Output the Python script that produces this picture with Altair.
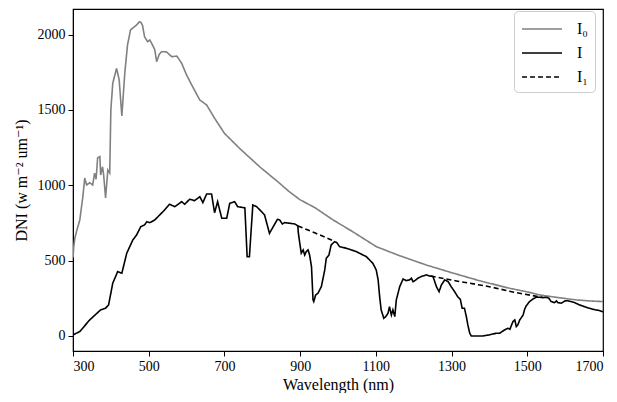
import altair as alt
import pandas as pd

# Extraterrestrial DNI (I0)
wl_I0 = [300, 302, 305, 310, 318, 326, 331, 336, 344, 352, 357, 361, 365, 371, 373, 378, 381, 386, 392, 397,
         400, 405, 415, 422, 429, 437, 444, 452, 468, 476, 480, 484, 489, 497, 503, 510, 516, 521, 528, 534,
         547, 561, 574, 587, 600, 616, 635, 653, 674, 700, 740, 793, 846, 870, 899, 940, 987, 1040, 1101, 1160,
         1233, 1300, 1366, 1400, 1450, 1497, 1533, 1580, 1630, 1665, 1700]
val_I0 = [520, 593, 650, 700, 770, 924, 1048, 1002, 1017, 1002, 1081, 1040, 1181, 1190, 1068, 1123, 1068, 916, 1101, 1081,
          1500, 1677, 1776, 1700, 1460, 1750, 1931, 2031, 2064, 2086, 2080, 2057, 1986, 1953, 1964, 1931, 1900, 1820, 1870, 1887,
          1885, 1853, 1858, 1810, 1732, 1654, 1566, 1533, 1445, 1345, 1245, 1123, 1013, 960, 905, 850, 770, 690, 593, 535,
          471, 420, 372, 350, 318, 294, 272, 255, 239, 232, 228]

# Measured DNI (I)
wl_I = [300, 318, 344, 363, 373, 386, 394, 405, 418, 429, 442, 458, 468, 479, 489, 495, 503, 516, 529, 542,
        555, 569, 587, 595, 608, 621, 635, 643, 653, 666, 674, 682, 693, 706, 714, 727, 735, 754, 760, 766,
        775, 785, 798, 806, 819, 840, 846, 853, 859, 872, 886, 894, 895, 899, 903, 908, 912, 916, 921, 925,
        930, 934, 936, 941, 947, 956, 965, 969, 976, 982, 991, 997, 1004, 1022, 1048, 1075, 1092, 1101, 1106, 1110,
        1114, 1121, 1126, 1132, 1136, 1141, 1145, 1150, 1154, 1163, 1172, 1180, 1189, 1194, 1198, 1202, 1211, 1220, 1233, 1242,
        1251, 1260, 1267, 1273, 1282, 1291, 1299, 1308, 1317, 1323, 1328, 1334, 1339, 1343, 1348, 1352, 1383, 1400, 1418, 1427,
        1440, 1449, 1454, 1462, 1467, 1471, 1475, 1480, 1489, 1493, 1497, 1506, 1515, 1524, 1533, 1541, 1550, 1557, 1563, 1572,
        1577, 1581, 1590, 1599, 1607, 1616, 1625, 1638, 1656, 1673, 1691, 1700]
val_I = [7, 29, 106, 150, 173, 184, 206, 350, 427, 416, 549, 637, 670, 725, 737, 758, 752, 770, 803, 836,
         874, 858, 891, 874, 907, 898, 924, 885, 942, 942, 818, 891, 781, 781, 880, 891, 858, 850, 526, 526,
         869, 858, 825, 803, 681, 774, 770, 743, 752, 748, 743, 730, 690, 615, 549, 571, 537, 559, 571, 537,
         460, 239, 228, 272, 283, 327, 438, 515, 537, 604, 626, 619, 593, 582, 560, 526, 482, 438, 372, 261,
         173, 117, 128, 150, 194, 139, 173, 128, 239, 327, 378, 367, 372, 383, 360, 365, 383, 394, 405, 398,
         394, 327, 294, 338, 372, 360, 327, 294, 257, 244, 184, 184, 128, 73, 18, 0, 0, 7, 18, 18,
         40, 51, 44, 95, 106, 62, 73, 106, 139, 177, 199, 228, 245, 257, 257, 254, 257, 250, 228, 221,
         232, 221, 217, 232, 234, 228, 221, 206, 190, 177, 168, 160]

# Absorption-free baseline (I1), two bridging segments
wl_I1 = [894, 940, 991, 1245, 1313, 1400, 1465, 1540]
val_I1 = [730, 683, 628, 398, 365, 327, 290, 256]
seg_I1 = [1, 1, 1, 2, 2, 2, 2, 2]

names = ["I₀", "I", "I₁"]

rows = []
for w, v in zip(wl_I0, val_I0):
    rows.append({"series": names[0], "seg": "a", "wl": w, "dni": v})
for w, v in zip(wl_I, val_I):
    rows.append({"series": names[1], "seg": "b", "wl": w, "dni": v})
for w, v, s in zip(wl_I1, val_I1, seg_I1):
    rows.append({"series": names[2], "seg": f"c{s}", "wl": w, "dni": v})
df = pd.DataFrame(rows)

FONT = "Times New Roman, Liberation Serif, DejaVu Serif, serif"

legend = alt.Legend(title=None, orient="none", legendX=441, legendY=2)

chart = alt.Chart(df).mark_line(strokeWidth=1.6, clip=True).encode(
    x=alt.X("wl:Q", scale=alt.Scale(domain=[300, 1700], nice=False, zero=False),
            axis=alt.Axis(values=[300, 500, 700, 900, 1100, 1300, 1500, 1700], format="d",
                          title="Wavelength (nm)")),
    y=alt.Y("dni:Q", scale=alt.Scale(domain=[-100, 2170], nice=False, zero=False),
            axis=alt.Axis(values=[0, 500, 1000, 1500, 2000], format="d", title="DNI (w m⁻² um⁻¹)")),
    color=alt.Color("series:N", scale=alt.Scale(domain=names, range=["#808080", "#000000", "#000000"]),
                    legend=legend),
    strokeDash=alt.StrokeDash("series:N", scale=alt.Scale(domain=names, range=[[1, 0], [1, 0], [5, 3]]),
                              legend=legend),
    detail="seg:N",
).properties(
    width=530, height=342,
    padding={"left": 65, "top": 1, "right": 5, "bottom": 42},
    autosize="none",
).configure_view(
    stroke="#000000", strokeWidth=1.2
).configure_axis(
    labelFont=FONT, titleFont=FONT, labelFontSize=14, titleFontSize=16,
    labelColor="#000", titleColor="#000", titleFontWeight="normal",
    domainColor="#000", tickColor="#000", tickSize=5, grid=False,
    labelPadding=3,
).configure_axisX(titlePadding=3).configure_axisY(titlePadding=8).configure_legend(
    labelFont=FONT, labelFontSize=16, labelColor="#000",
    symbolType="M-1,0H3", symbolSize=400, symbolStrokeWidth=1.6,
    strokeColor="#cccccc", fillColor="#ffffff", cornerRadius=4, padding=7,
    rowPadding=5, labelOffset=34,
)

chart.save("out.html", embed_options={"renderer": "svg", "actions": False})
